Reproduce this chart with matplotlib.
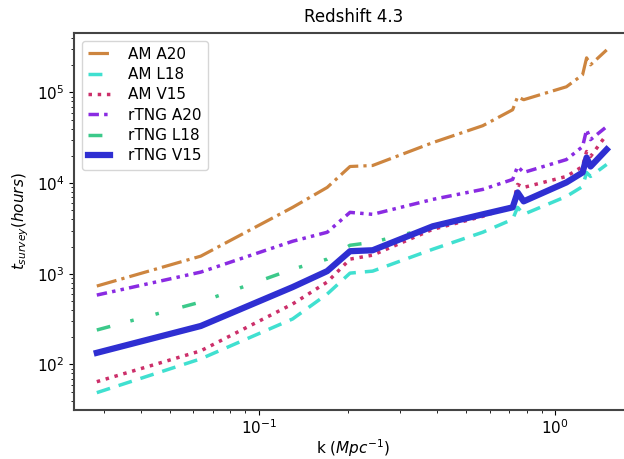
import numpy as np
import matplotlib
matplotlib.use('Agg')
import matplotlib.pyplot as plt

# k values (Mpc^-1), shared by all curves
k = [0.0284, 0.0637, 0.130, 0.170, 0.203, 0.242, 0.386, 0.569,
     0.718, 0.746, 0.782, 1.09, 1.236, 1.275, 1.315, 1.49]

# survey times in hours
am_a20 = [733, 1567, 5410, 8970, 15270, 15660, 28000, 43000,
          64500, 89700, 83200, 115600, 156700, 241000, 201800, 294600]
am_l18 = [48.9, 115.5, 318, 598, 1018, 1071, 1867, 2873,
          3990, 5410, 4530, 7140, 9180, 13120, 11860, 16070]
am_v15 = [64.6, 141.5, 465, 811, 1452, 1607, 3097, 4305,
          5546, 9680, 8970, 11860, 15270, 22340, 19680, 34350]
rtng_a20 = [583, 1045, 2287, 2873, 4763, 4530, 6620, 8530,
            10990, 15270, 13120, 18200, 25300, 38900, 30200, 42000]
rtng_l18 = [240, 489, 1127, 1452, 2066, 2228, 3258, 4530,
            5410, 7900, 6300, 10190, 13120, 19150, 15270, 23500]
rtng_v15 = [134.5, 266, 714, 1071, 1776, 1820, 3344, 4530,
            5410, 7900, 6300, 10190, 13120, 19150, 15270, 23500]

fig = plt.figure(figsize=(6.24, 4.59), dpi=100)
# axes runs past the right edge, like the cropped original
ax = fig.add_axes([0.1186, 0.1068, 0.896, 0.8213])

ax.plot(k, am_a20, color='peru', linestyle='-.', lw=2.3, label='AM A20')
ax.plot(k, am_l18, color='turquoise', linestyle=(0, (4, 2.6)), lw=2.5, label='AM L18')
ax.plot(k, am_v15, color='#cc2f6a', linestyle=':', lw=2.5, label='AM V15')
ax.plot(k, rtng_a20, color='blueviolet', linestyle=(0, (3, 1.5, 1, 1.5, 1, 1.5)), lw=2.5, label='rTNG A20')
ax.plot(k, rtng_l18, color='#3cc98a', linestyle=(0, (4, 6, 1, 6.5, 1, 7)), lw=2.5, label='rTNG L18')
ax.plot(k, rtng_v15, color='#2f2fd2', linestyle='-', lw=4.5, label='rTNG V15')

ax.set_xscale('log')
ax.set_yscale('log')
ax.set_xlim(0.02379, 1.83)
ax.set_ylim(31.5, 4.53e5)

ax.set_title('Redshift 4.3', fontsize=12, pad=8)
ax.set_xlabel('k ($Mpc^{-1}$)', fontsize=11, labelpad=0)
ax.set_ylabel('$t_{survey}(hours)$', fontsize=11)
ax.tick_params(labelsize=11)
ax.tick_params(axis='x', which='both', pad=2.5)
for s in ax.spines.values():
    s.set_color('#444444')
    s.set_linewidth(1.5)

ax.legend(loc='upper left', fontsize=11, labelspacing=0.35,
          handlelength=1.45, handletextpad=1.2)

fig.savefig('out.png', dpi=100)
